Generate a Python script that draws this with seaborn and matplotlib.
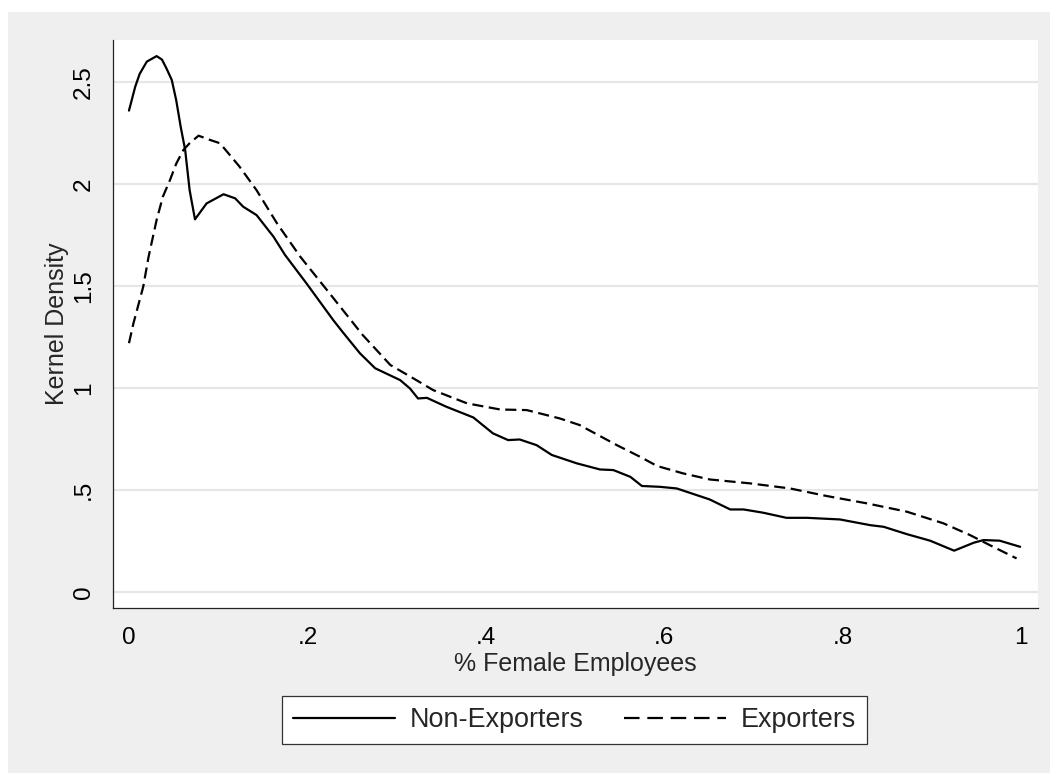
import pandas as pd
import matplotlib.pyplot as plt
from matplotlib.lines import Line2D
from matplotlib.patches import Rectangle
import seaborn as sns

# valores (densidade kernel)
nonexp_x = [0.000, 0.003, 0.007, 0.012, 0.020, 0.024, 0.031, 0.037, 0.042, 0.048,
            0.053, 0.058, 0.063, 0.068, 0.074,
            0.087, 0.106, 0.119, 0.128, 0.143, 0.162, 0.175, 0.199, 0.229, 0.240,
            0.259, 0.276, 0.304, 0.315, 0.324, 0.334, 0.356, 0.386, 0.408, 0.425,
            0.438, 0.457, 0.474, 0.502, 0.528, 0.543, 0.562, 0.575, 0.595, 0.614,
            0.651, 0.674, 0.689, 0.711, 0.737, 0.760, 0.797, 0.831, 0.846, 0.872,
            0.898, 0.925, 0.947, 0.958, 0.976, 0.999]
nonexp_y = [2.36, 2.41, 2.477, 2.54, 2.60, 2.61, 2.627, 2.61, 2.567, 2.51,
            2.41, 2.28, 2.167, 1.97, 1.827,
            1.905, 1.95, 1.93, 1.889, 1.848, 1.742, 1.652, 1.513, 1.333, 1.272,
            1.17, 1.097, 1.039, 0.998, 0.949, 0.952, 0.908, 0.856, 0.778, 0.745,
            0.748, 0.72, 0.672, 0.631, 0.601, 0.598, 0.565, 0.52, 0.516, 0.508,
            0.454, 0.405, 0.405, 0.389, 0.364, 0.364, 0.356, 0.328, 0.32, 0.284,
            0.252, 0.203, 0.242, 0.255, 0.252, 0.222]

exp_x = [0.000, 0.005, 0.016, 0.022, 0.031, 0.038, 0.046, 0.053, 0.061, 0.068,
         0.078, 0.091, 0.102, 0.124, 0.143,
         0.166, 0.192, 0.222, 0.262, 0.293, 0.319, 0.341, 0.379, 0.416, 0.446,
         0.483, 0.505, 0.547, 0.573, 0.592, 0.621, 0.651, 0.696, 0.741, 0.782,
         0.827, 0.872, 0.913, 0.943, 0.965, 0.995]
exp_y = [1.22, 1.317, 1.497, 1.644, 1.824, 1.938, 2.02, 2.10, 2.167, 2.20,
         2.237, 2.216, 2.2, 2.085, 1.97,
         1.807, 1.644, 1.48, 1.26, 1.113, 1.047, 0.99, 0.925, 0.895, 0.892,
         0.851, 0.819, 0.72, 0.663, 0.618, 0.582, 0.552, 0.533, 0.508, 0.471,
         0.435, 0.394, 0.337, 0.279, 0.23, 0.165]

groups = ['Non-Exporters', 'Exporters']
x_ticks = [0, 0.2, 0.4, 0.6, 0.8, 1]
x_labels = ['0', '.2', '.4', '.6', '.8', '1']
y_ticks = [0, 0.5, 1, 1.5, 2, 2.5]
y_labels = ['0', '.5', '1', '1.5', '2', '2.5']

df = pd.concat([
    pd.DataFrame({'x': nonexp_x, 'y': nonexp_y, 'grupo': groups[0]}),
    pd.DataFrame({'x': exp_x, 'y': exp_y, 'grupo': groups[1]}),
])

sns.set_theme(style="white")
plt.rcParams['font.family'] = ['Liberation Sans', 'DejaVu Sans']

fig = plt.figure(figsize=(10.5, 7.73), dpi=100, facecolor='white')
fig.patches.append(Rectangle((8 / 1050, 0), 1, 1 - 12 / 773, transform=fig.transFigure,
                             facecolor='#efefef', edgecolor='none', zorder=-10))
ax = fig.add_axes([113 / 1050, 1 - 608 / 773, 925 / 1050, 568 / 773])
ax.set_facecolor('white')

sns.lineplot(data=df, x='x', y='y', style='grupo', style_order=groups,
             dashes={groups[0]: '', groups[1]: (5, 2.5)},
             color='black', linewidth=1.6, legend=False, ax=ax)

ax.set_xlim(-0.0179, 1.019)
ax.set_ylim(-0.078, 2.706)
ax.set_xticks(x_ticks)
ax.set_xticklabels(x_labels)
ax.set_yticks(y_ticks)
ax.set_yticklabels(y_labels, rotation=90, va='center')
ax.yaxis.grid(True, color='#e6e6e6', linewidth=1.5)
ax.xaxis.grid(False)
ax.set_axisbelow(True)

for s in ['top', 'right']:
    ax.spines[s].set_visible(False)
for s in ['left', 'bottom']:
    ax.spines[s].set_color('#222222')
    ax.spines[s].set_linewidth(0.9)

ax.tick_params(axis='both', which='major', direction='out', length=8, width=0.9,
               color='#222222', labelsize=17.5, labelcolor='black')
ax.tick_params(axis='x', pad=6)
ax.tick_params(axis='y', pad=5)

ax.set_xlabel('% Female Employees', fontsize=18, labelpad=2)
ax.set_ylabel('Kernel Density', fontsize=18, labelpad=3)

handles = [Line2D([], [], color='black', linewidth=1.6),
           Line2D([], [], color='black', linewidth=1.6, dashes=(7, 3.5))]
leg = fig.legend(handles, groups, loc='center', ncol=2,
                 bbox_to_anchor=(574.5 / 1050, 1 - 720 / 773),
                 fontsize=19.4, frameon=True, fancybox=False, handlelength=3.8,
                 handletextpad=0.56, columnspacing=1.48, borderpad=0.4)
leg.get_frame().set_edgecolor('#333333')
leg.get_frame().set_linewidth(0.9)
leg.get_frame().set_facecolor('white')
leg.get_frame().set_alpha(1)

plt.savefig('out.png', dpi=100)
